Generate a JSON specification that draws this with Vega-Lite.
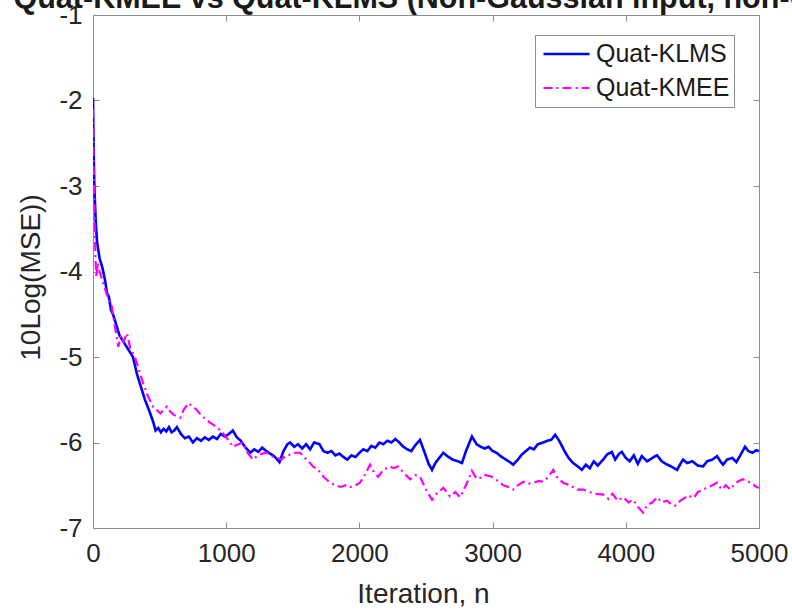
{
"$schema":"https://vega.github.io/schema/vega-lite/v6.json",
"width":666,"height":513,
"autosize":{"type":"none"},
"padding":{"left":93,"top":15,"right":33,"bottom":82},
"background":"white",
"config":{"view":{"stroke":"#8c8c8c","strokeWidth":1},"font":"Liberation Sans"},
"datasets":{"d":[
{"n":0,"v":-1.97,"s":"Quat-KLMS"},{"n":5,"v":-2.6,"s":"Quat-KLMS"},{"n":10,"v":-3.0,"s":"Quat-KLMS"},{"n":15,"v":-3.2,"s":"Quat-KLMS"},{"n":20,"v":-3.4,"s":"Quat-KLMS"},{"n":30,"v":-3.65,"s":"Quat-KLMS"},{"n":40,"v":-3.75,"s":"Quat-KLMS"},{"n":50,"v":-3.85,"s":"Quat-KLMS"},{"n":70,"v":-3.95,"s":"Quat-KLMS"},{"n":90,"v":-4.1,"s":"Quat-KLMS"},{"n":105,"v":-4.25,"s":"Quat-KLMS"},{"n":120,"v":-4.3,"s":"Quat-KLMS"},{"n":135,"v":-4.45,"s":"Quat-KLMS"},{"n":150,"v":-4.5,"s":"Quat-KLMS"},{"n":170,"v":-4.6,"s":"Quat-KLMS"},{"n":185,"v":-4.68,"s":"Quat-KLMS"},{"n":200,"v":-4.75,"s":"Quat-KLMS"},{"n":220,"v":-4.8,"s":"Quat-KLMS"},{"n":240,"v":-4.85,"s":"Quat-KLMS"},{"n":260,"v":-4.9,"s":"Quat-KLMS"},{"n":280,"v":-4.95,"s":"Quat-KLMS"},{"n":300,"v":-5.0,"s":"Quat-KLMS"},{"n":330,"v":-5.2,"s":"Quat-KLMS"},{"n":360,"v":-5.35,"s":"Quat-KLMS"},{"n":390,"v":-5.5,"s":"Quat-KLMS"},{"n":420,"v":-5.62,"s":"Quat-KLMS"},{"n":450,"v":-5.75,"s":"Quat-KLMS"},{"n":470,"v":-5.86,"s":"Quat-KLMS"},{"n":490,"v":-5.83,"s":"Quat-KLMS"},{"n":510,"v":-5.88,"s":"Quat-KLMS"},{"n":530,"v":-5.84,"s":"Quat-KLMS"},{"n":550,"v":-5.87,"s":"Quat-KLMS"},{"n":570,"v":-5.82,"s":"Quat-KLMS"},{"n":590,"v":-5.88,"s":"Quat-KLMS"},{"n":610,"v":-5.86,"s":"Quat-KLMS"},{"n":630,"v":-5.82,"s":"Quat-KLMS"},{"n":660,"v":-5.9,"s":"Quat-KLMS"},{"n":690,"v":-5.95,"s":"Quat-KLMS"},{"n":720,"v":-5.93,"s":"Quat-KLMS"},{"n":750,"v":-6.0,"s":"Quat-KLMS"},{"n":780,"v":-5.95,"s":"Quat-KLMS"},{"n":810,"v":-5.98,"s":"Quat-KLMS"},{"n":840,"v":-5.94,"s":"Quat-KLMS"},{"n":870,"v":-5.97,"s":"Quat-KLMS"},{"n":900,"v":-5.93,"s":"Quat-KLMS"},{"n":930,"v":-5.96,"s":"Quat-KLMS"},{"n":960,"v":-5.9,"s":"Quat-KLMS"},{"n":990,"v":-5.93,"s":"Quat-KLMS"},{"n":1020,"v":-5.9,"s":"Quat-KLMS"},{"n":1050,"v":-5.86,"s":"Quat-KLMS"},{"n":1080,"v":-5.94,"s":"Quat-KLMS"},{"n":1110,"v":-5.98,"s":"Quat-KLMS"},{"n":1140,"v":-6.05,"s":"Quat-KLMS"},{"n":1180,"v":-6.12,"s":"Quat-KLMS"},{"n":1210,"v":-6.08,"s":"Quat-KLMS"},{"n":1240,"v":-6.11,"s":"Quat-KLMS"},{"n":1270,"v":-6.06,"s":"Quat-KLMS"},{"n":1300,"v":-6.1,"s":"Quat-KLMS"},{"n":1330,"v":-6.13,"s":"Quat-KLMS"},{"n":1360,"v":-6.16,"s":"Quat-KLMS"},{"n":1400,"v":-6.23,"s":"Quat-KLMS"},{"n":1430,"v":-6.1,"s":"Quat-KLMS"},{"n":1460,"v":-6.02,"s":"Quat-KLMS"},{"n":1480,"v":-6.0,"s":"Quat-KLMS"},{"n":1510,"v":-6.05,"s":"Quat-KLMS"},{"n":1540,"v":-6.02,"s":"Quat-KLMS"},{"n":1570,"v":-6.07,"s":"Quat-KLMS"},{"n":1600,"v":-6.02,"s":"Quat-KLMS"},{"n":1630,"v":-6.08,"s":"Quat-KLMS"},{"n":1660,"v":-6.0,"s":"Quat-KLMS"},{"n":1700,"v":-6.02,"s":"Quat-KLMS"},{"n":1730,"v":-6.1,"s":"Quat-KLMS"},{"n":1760,"v":-6.12,"s":"Quat-KLMS"},{"n":1790,"v":-6.1,"s":"Quat-KLMS"},{"n":1820,"v":-6.15,"s":"Quat-KLMS"},{"n":1850,"v":-6.13,"s":"Quat-KLMS"},{"n":1880,"v":-6.17,"s":"Quat-KLMS"},{"n":1910,"v":-6.2,"s":"Quat-KLMS"},{"n":1940,"v":-6.15,"s":"Quat-KLMS"},{"n":1970,"v":-6.17,"s":"Quat-KLMS"},{"n":2000,"v":-6.12,"s":"Quat-KLMS"},{"n":2030,"v":-6.08,"s":"Quat-KLMS"},{"n":2060,"v":-6.1,"s":"Quat-KLMS"},{"n":2090,"v":-6.04,"s":"Quat-KLMS"},{"n":2120,"v":-6.06,"s":"Quat-KLMS"},{"n":2150,"v":-6.0,"s":"Quat-KLMS"},{"n":2180,"v":-6.02,"s":"Quat-KLMS"},{"n":2210,"v":-5.98,"s":"Quat-KLMS"},{"n":2240,"v":-6.0,"s":"Quat-KLMS"},{"n":2270,"v":-5.96,"s":"Quat-KLMS"},{"n":2300,"v":-6.0,"s":"Quat-KLMS"},{"n":2330,"v":-6.05,"s":"Quat-KLMS"},{"n":2360,"v":-6.08,"s":"Quat-KLMS"},{"n":2390,"v":-6.1,"s":"Quat-KLMS"},{"n":2420,"v":-6.03,"s":"Quat-KLMS"},{"n":2455,"v":-5.97,"s":"Quat-KLMS"},{"n":2490,"v":-6.12,"s":"Quat-KLMS"},{"n":2520,"v":-6.25,"s":"Quat-KLMS"},{"n":2545,"v":-6.32,"s":"Quat-KLMS"},{"n":2570,"v":-6.24,"s":"Quat-KLMS"},{"n":2600,"v":-6.18,"s":"Quat-KLMS"},{"n":2630,"v":-6.12,"s":"Quat-KLMS"},{"n":2660,"v":-6.16,"s":"Quat-KLMS"},{"n":2700,"v":-6.2,"s":"Quat-KLMS"},{"n":2740,"v":-6.22,"s":"Quat-KLMS"},{"n":2770,"v":-6.24,"s":"Quat-KLMS"},{"n":2800,"v":-6.1,"s":"Quat-KLMS"},{"n":2845,"v":-5.93,"s":"Quat-KLMS"},{"n":2880,"v":-6.02,"s":"Quat-KLMS"},{"n":2910,"v":-6.05,"s":"Quat-KLMS"},{"n":2940,"v":-6.07,"s":"Quat-KLMS"},{"n":2970,"v":-6.05,"s":"Quat-KLMS"},{"n":3000,"v":-6.1,"s":"Quat-KLMS"},{"n":3030,"v":-6.12,"s":"Quat-KLMS"},{"n":3060,"v":-6.16,"s":"Quat-KLMS"},{"n":3100,"v":-6.2,"s":"Quat-KLMS"},{"n":3130,"v":-6.23,"s":"Quat-KLMS"},{"n":3155,"v":-6.26,"s":"Quat-KLMS"},{"n":3190,"v":-6.2,"s":"Quat-KLMS"},{"n":3220,"v":-6.14,"s":"Quat-KLMS"},{"n":3250,"v":-6.1,"s":"Quat-KLMS"},{"n":3280,"v":-6.06,"s":"Quat-KLMS"},{"n":3310,"v":-6.08,"s":"Quat-KLMS"},{"n":3340,"v":-6.02,"s":"Quat-KLMS"},{"n":3380,"v":-6.0,"s":"Quat-KLMS"},{"n":3410,"v":-5.98,"s":"Quat-KLMS"},{"n":3440,"v":-5.97,"s":"Quat-KLMS"},{"n":3470,"v":-5.91,"s":"Quat-KLMS"},{"n":3500,"v":-5.98,"s":"Quat-KLMS"},{"n":3540,"v":-6.1,"s":"Quat-KLMS"},{"n":3570,"v":-6.18,"s":"Quat-KLMS"},{"n":3605,"v":-6.24,"s":"Quat-KLMS"},{"n":3640,"v":-6.28,"s":"Quat-KLMS"},{"n":3670,"v":-6.32,"s":"Quat-KLMS"},{"n":3700,"v":-6.26,"s":"Quat-KLMS"},{"n":3730,"v":-6.3,"s":"Quat-KLMS"},{"n":3760,"v":-6.22,"s":"Quat-KLMS"},{"n":3790,"v":-6.27,"s":"Quat-KLMS"},{"n":3830,"v":-6.2,"s":"Quat-KLMS"},{"n":3860,"v":-6.14,"s":"Quat-KLMS"},{"n":3895,"v":-6.11,"s":"Quat-KLMS"},{"n":3920,"v":-6.2,"s":"Quat-KLMS"},{"n":3950,"v":-6.13,"s":"Quat-KLMS"},{"n":3970,"v":-6.11,"s":"Quat-KLMS"},{"n":4000,"v":-6.18,"s":"Quat-KLMS"},{"n":4030,"v":-6.22,"s":"Quat-KLMS"},{"n":4060,"v":-6.15,"s":"Quat-KLMS"},{"n":4090,"v":-6.25,"s":"Quat-KLMS"},{"n":4120,"v":-6.16,"s":"Quat-KLMS"},{"n":4160,"v":-6.22,"s":"Quat-KLMS"},{"n":4200,"v":-6.18,"s":"Quat-KLMS"},{"n":4235,"v":-6.15,"s":"Quat-KLMS"},{"n":4270,"v":-6.22,"s":"Quat-KLMS"},{"n":4300,"v":-6.25,"s":"Quat-KLMS"},{"n":4340,"v":-6.28,"s":"Quat-KLMS"},{"n":4385,"v":-6.32,"s":"Quat-KLMS"},{"n":4410,"v":-6.25,"s":"Quat-KLMS"},{"n":4430,"v":-6.2,"s":"Quat-KLMS"},{"n":4460,"v":-6.24,"s":"Quat-KLMS"},{"n":4500,"v":-6.22,"s":"Quat-KLMS"},{"n":4540,"v":-6.27,"s":"Quat-KLMS"},{"n":4580,"v":-6.28,"s":"Quat-KLMS"},{"n":4610,"v":-6.22,"s":"Quat-KLMS"},{"n":4650,"v":-6.2,"s":"Quat-KLMS"},{"n":4685,"v":-6.16,"s":"Quat-KLMS"},{"n":4710,"v":-6.22,"s":"Quat-KLMS"},{"n":4730,"v":-6.26,"s":"Quat-KLMS"},{"n":4760,"v":-6.2,"s":"Quat-KLMS"},{"n":4800,"v":-6.18,"s":"Quat-KLMS"},{"n":4830,"v":-6.23,"s":"Quat-KLMS"},{"n":4860,"v":-6.15,"s":"Quat-KLMS"},{"n":4895,"v":-6.05,"s":"Quat-KLMS"},{"n":4920,"v":-6.1,"s":"Quat-KLMS"},{"n":4950,"v":-6.12,"s":"Quat-KLMS"},{"n":4980,"v":-6.09,"s":"Quat-KLMS"},{"n":5000,"v":-6.1,"s":"Quat-KLMS"},
{"n":0,"v":-2.1,"s":"Quat-KMEE"},{"n":5,"v":-2.8,"s":"Quat-KMEE"},{"n":10,"v":-3.3,"s":"Quat-KMEE"},{"n":15,"v":-3.6,"s":"Quat-KMEE"},{"n":20,"v":-3.9,"s":"Quat-KMEE"},{"n":25,"v":-4.07,"s":"Quat-KMEE"},{"n":35,"v":-3.9,"s":"Quat-KMEE"},{"n":50,"v":-4.0,"s":"Quat-KMEE"},{"n":70,"v":-4.1,"s":"Quat-KMEE"},{"n":90,"v":-4.2,"s":"Quat-KMEE"},{"n":110,"v":-4.3,"s":"Quat-KMEE"},{"n":140,"v":-4.4,"s":"Quat-KMEE"},{"n":160,"v":-4.6,"s":"Quat-KMEE"},{"n":190,"v":-4.88,"s":"Quat-KMEE"},{"n":210,"v":-4.75,"s":"Quat-KMEE"},{"n":230,"v":-4.82,"s":"Quat-KMEE"},{"n":255,"v":-4.72,"s":"Quat-KMEE"},{"n":280,"v":-4.9,"s":"Quat-KMEE"},{"n":315,"v":-5.0,"s":"Quat-KMEE"},{"n":345,"v":-5.15,"s":"Quat-KMEE"},{"n":375,"v":-5.3,"s":"Quat-KMEE"},{"n":410,"v":-5.45,"s":"Quat-KMEE"},{"n":450,"v":-5.58,"s":"Quat-KMEE"},{"n":480,"v":-5.62,"s":"Quat-KMEE"},{"n":505,"v":-5.66,"s":"Quat-KMEE"},{"n":530,"v":-5.62,"s":"Quat-KMEE"},{"n":555,"v":-5.58,"s":"Quat-KMEE"},{"n":580,"v":-5.64,"s":"Quat-KMEE"},{"n":610,"v":-5.68,"s":"Quat-KMEE"},{"n":655,"v":-5.71,"s":"Quat-KMEE"},{"n":680,"v":-5.62,"s":"Quat-KMEE"},{"n":715,"v":-5.54,"s":"Quat-KMEE"},{"n":750,"v":-5.58,"s":"Quat-KMEE"},{"n":780,"v":-5.62,"s":"Quat-KMEE"},{"n":810,"v":-5.68,"s":"Quat-KMEE"},{"n":855,"v":-5.74,"s":"Quat-KMEE"},{"n":890,"v":-5.78,"s":"Quat-KMEE"},{"n":930,"v":-5.82,"s":"Quat-KMEE"},{"n":970,"v":-5.88,"s":"Quat-KMEE"},{"n":1005,"v":-5.95,"s":"Quat-KMEE"},{"n":1030,"v":-6.0,"s":"Quat-KMEE"},{"n":1050,"v":-6.05,"s":"Quat-KMEE"},{"n":1090,"v":-6.02,"s":"Quat-KMEE"},{"n":1125,"v":-6.0,"s":"Quat-KMEE"},{"n":1160,"v":-6.12,"s":"Quat-KMEE"},{"n":1200,"v":-6.2,"s":"Quat-KMEE"},{"n":1240,"v":-6.15,"s":"Quat-KMEE"},{"n":1270,"v":-6.13,"s":"Quat-KMEE"},{"n":1305,"v":-6.12,"s":"Quat-KMEE"},{"n":1340,"v":-6.16,"s":"Quat-KMEE"},{"n":1380,"v":-6.18,"s":"Quat-KMEE"},{"n":1415,"v":-6.2,"s":"Quat-KMEE"},{"n":1450,"v":-6.15,"s":"Quat-KMEE"},{"n":1490,"v":-6.14,"s":"Quat-KMEE"},{"n":1520,"v":-6.12,"s":"Quat-KMEE"},{"n":1555,"v":-6.12,"s":"Quat-KMEE"},{"n":1590,"v":-6.18,"s":"Quat-KMEE"},{"n":1620,"v":-6.22,"s":"Quat-KMEE"},{"n":1650,"v":-6.28,"s":"Quat-KMEE"},{"n":1690,"v":-6.32,"s":"Quat-KMEE"},{"n":1730,"v":-6.4,"s":"Quat-KMEE"},{"n":1780,"v":-6.47,"s":"Quat-KMEE"},{"n":1820,"v":-6.5,"s":"Quat-KMEE"},{"n":1860,"v":-6.52,"s":"Quat-KMEE"},{"n":1900,"v":-6.5,"s":"Quat-KMEE"},{"n":1930,"v":-6.52,"s":"Quat-KMEE"},{"n":1970,"v":-6.5,"s":"Quat-KMEE"},{"n":2005,"v":-6.47,"s":"Quat-KMEE"},{"n":2040,"v":-6.38,"s":"Quat-KMEE"},{"n":2080,"v":-6.26,"s":"Quat-KMEE"},{"n":2110,"v":-6.35,"s":"Quat-KMEE"},{"n":2140,"v":-6.4,"s":"Quat-KMEE"},{"n":2180,"v":-6.32,"s":"Quat-KMEE"},{"n":2230,"v":-6.28,"s":"Quat-KMEE"},{"n":2260,"v":-6.3,"s":"Quat-KMEE"},{"n":2290,"v":-6.28,"s":"Quat-KMEE"},{"n":2330,"v":-6.35,"s":"Quat-KMEE"},{"n":2380,"v":-6.43,"s":"Quat-KMEE"},{"n":2420,"v":-6.38,"s":"Quat-KMEE"},{"n":2455,"v":-6.4,"s":"Quat-KMEE"},{"n":2500,"v":-6.55,"s":"Quat-KMEE"},{"n":2545,"v":-6.67,"s":"Quat-KMEE"},{"n":2580,"v":-6.6,"s":"Quat-KMEE"},{"n":2630,"v":-6.53,"s":"Quat-KMEE"},{"n":2680,"v":-6.63,"s":"Quat-KMEE"},{"n":2720,"v":-6.58,"s":"Quat-KMEE"},{"n":2755,"v":-6.64,"s":"Quat-KMEE"},{"n":2800,"v":-6.5,"s":"Quat-KMEE"},{"n":2845,"v":-6.33,"s":"Quat-KMEE"},{"n":2870,"v":-6.4,"s":"Quat-KMEE"},{"n":2890,"v":-6.43,"s":"Quat-KMEE"},{"n":2940,"v":-6.38,"s":"Quat-KMEE"},{"n":2995,"v":-6.4,"s":"Quat-KMEE"},{"n":3040,"v":-6.45,"s":"Quat-KMEE"},{"n":3080,"v":-6.5,"s":"Quat-KMEE"},{"n":3120,"v":-6.52,"s":"Quat-KMEE"},{"n":3155,"v":-6.55,"s":"Quat-KMEE"},{"n":3190,"v":-6.5,"s":"Quat-KMEE"},{"n":3230,"v":-6.46,"s":"Quat-KMEE"},{"n":3270,"v":-6.48,"s":"Quat-KMEE"},{"n":3310,"v":-6.47,"s":"Quat-KMEE"},{"n":3350,"v":-6.45,"s":"Quat-KMEE"},{"n":3380,"v":-6.46,"s":"Quat-KMEE"},{"n":3420,"v":-6.4,"s":"Quat-KMEE"},{"n":3455,"v":-6.32,"s":"Quat-KMEE"},{"n":3490,"v":-6.42,"s":"Quat-KMEE"},{"n":3530,"v":-6.47,"s":"Quat-KMEE"},{"n":3580,"v":-6.5,"s":"Quat-KMEE"},{"n":3635,"v":-6.55,"s":"Quat-KMEE"},{"n":3680,"v":-6.55,"s":"Quat-KMEE"},{"n":3730,"v":-6.58,"s":"Quat-KMEE"},{"n":3780,"v":-6.6,"s":"Quat-KMEE"},{"n":3830,"v":-6.61,"s":"Quat-KMEE"},{"n":3870,"v":-6.66,"s":"Quat-KMEE"},{"n":3900,"v":-6.6,"s":"Quat-KMEE"},{"n":3940,"v":-6.68,"s":"Quat-KMEE"},{"n":3980,"v":-6.64,"s":"Quat-KMEE"},{"n":4020,"v":-6.7,"s":"Quat-KMEE"},{"n":4055,"v":-6.67,"s":"Quat-KMEE"},{"n":4090,"v":-6.75,"s":"Quat-KMEE"},{"n":4130,"v":-6.82,"s":"Quat-KMEE"},{"n":4160,"v":-6.73,"s":"Quat-KMEE"},{"n":4200,"v":-6.7,"s":"Quat-KMEE"},{"n":4235,"v":-6.64,"s":"Quat-KMEE"},{"n":4270,"v":-6.7,"s":"Quat-KMEE"},{"n":4310,"v":-6.68,"s":"Quat-KMEE"},{"n":4340,"v":-6.72,"s":"Quat-KMEE"},{"n":4370,"v":-6.74,"s":"Quat-KMEE"},{"n":4410,"v":-6.68,"s":"Quat-KMEE"},{"n":4440,"v":-6.65,"s":"Quat-KMEE"},{"n":4470,"v":-6.62,"s":"Quat-KMEE"},{"n":4510,"v":-6.65,"s":"Quat-KMEE"},{"n":4540,"v":-6.58,"s":"Quat-KMEE"},{"n":4580,"v":-6.55,"s":"Quat-KMEE"},{"n":4620,"v":-6.52,"s":"Quat-KMEE"},{"n":4650,"v":-6.5,"s":"Quat-KMEE"},{"n":4685,"v":-6.47,"s":"Quat-KMEE"},{"n":4720,"v":-6.55,"s":"Quat-KMEE"},{"n":4750,"v":-6.5,"s":"Quat-KMEE"},{"n":4785,"v":-6.55,"s":"Quat-KMEE"},{"n":4820,"v":-6.48,"s":"Quat-KMEE"},{"n":4850,"v":-6.45,"s":"Quat-KMEE"},{"n":4880,"v":-6.43,"s":"Quat-KMEE"},{"n":4910,"v":-6.45,"s":"Quat-KMEE"},{"n":4950,"v":-6.48,"s":"Quat-KMEE"},{"n":4980,"v":-6.52,"s":"Quat-KMEE"},{"n":5000,"v":-6.53,"s":"Quat-KMEE"}
]},
"data":{"name":"d"},
"encoding":{
"color":{"field":"s","type":"nominal","scale":{"domain":["Quat-KLMS","Quat-KMEE"],"range":["#0000ff","#ff00ff"]},
 "legend":{"title":null,"orient":"none","legendX":442,"legendY":20,"symbolType":"stroke","symbolSize":2116,"symbolStrokeWidth":2,"clipHeight":30,"rowPadding":4,"padding":4,"symbolOffset":3,"labelOffset":5,"labelFontSize":25,"labelFont":"Liberation Sans","labelColor":"#1a1a1a","strokeColor":"#8c8c8c","fillColor":"white"}},
"strokeDash":{"field":"s","type":"nominal","scale":{"domain":["Quat-KLMS","Quat-KMEE"],"range":[[1,0],[9,4,2,4]]},"legend":{"title":null}},
"strokeWidth":{"field":"s","type":"nominal","scale":{"domain":["Quat-KLMS","Quat-KMEE"],"range":[2.6,2.2]},"legend":null}
},
"layer":[
{"transform":[{"filter":"datum.s == 'Quat-KLMS'"}],
 "mark":{"type":"line","clip":true},
 "encoding":{
  "x":{"field":"n","type":"quantitative","scale":{"domain":[0,5000],"nice":false},
   "axis":{"orient":"bottom","values":[0,1000,2000,3000,4000,5000],"labelExpr":"'' + datum.value","grid":false,"domainColor":"#8c8c8c","tickColor":"#8c8c8c","tickSize":-6,"labelPadding":18,"labelFontSize":26,"labelColor":"#262626","labelFont":"Liberation Sans","labelFlush":false,"title":"Iteration, n","titleFontSize":28,"titleFontWeight":"normal","titleFont":"Liberation Sans","titleColor":"#262626","titleX":330,"titleY":74,"titleBaseline":"alphabetic","titleAnchor":null,"titleAlign":"center"}},
  "y":{"field":"v","type":"quantitative","scale":{"domain":[-7,-1],"nice":false,"zero":false},
   "axis":{"orient":"left","values":[-7,-6,-5,-4,-3,-2,-1],"labelExpr":"'' + datum.value","grid":false,"domainColor":"#8c8c8c","tickColor":"#8c8c8c","tickSize":-6,"labelPadding":17,"labelFontSize":26,"labelColor":"#262626","labelFont":"Liberation Sans","labelFlush":false,"title":"10Log(MSE))","titleFontSize":28,"titleFontWeight":"normal","titleFont":"Liberation Sans","titleColor":"#262626","titleX":-54,"titleY":262,"titleBaseline":"alphabetic","titleAngle":-90,"titleAlign":"center"}}
 }},
{"transform":[{"filter":"datum.s == 'Quat-KMEE'"}],
 "mark":{"type":"line","clip":true},
 "encoding":{
  "x":{"field":"n","type":"quantitative","scale":{"domain":[0,5000],"nice":false},
   "axis":{"orient":"top","values":[0,1000,2000,3000,4000,5000],"grid":false,"labels":false,"domainColor":"#8c8c8c","tickColor":"#8c8c8c","tickSize":-6,"title":"Quat-KMEE vs Quat-KLMS (Non-Gaussian input, non-Gaussian noise)","titleFont":"Liberation Sans","titleFontSize":30.5,"titleFontWeight":"bold","titleColor":"#1a1a1a","titleX":-80,"titleY":-8,"titleAlign":"left","titleAnchor":null,"titleBaseline":"alphabetic","titleLimit":2000}},
  "y":{"field":"v","type":"quantitative","scale":{"domain":[-7,-1],"nice":false,"zero":false},
   "axis":{"orient":"right","values":[-7,-6,-5,-4,-3,-2,-1],"grid":false,"labels":false,"title":null,"domainColor":"#8c8c8c","tickColor":"#8c8c8c","tickSize":-6}}
 }}
],
"resolve":{"axis":{"x":"independent","y":"independent"}}
}
